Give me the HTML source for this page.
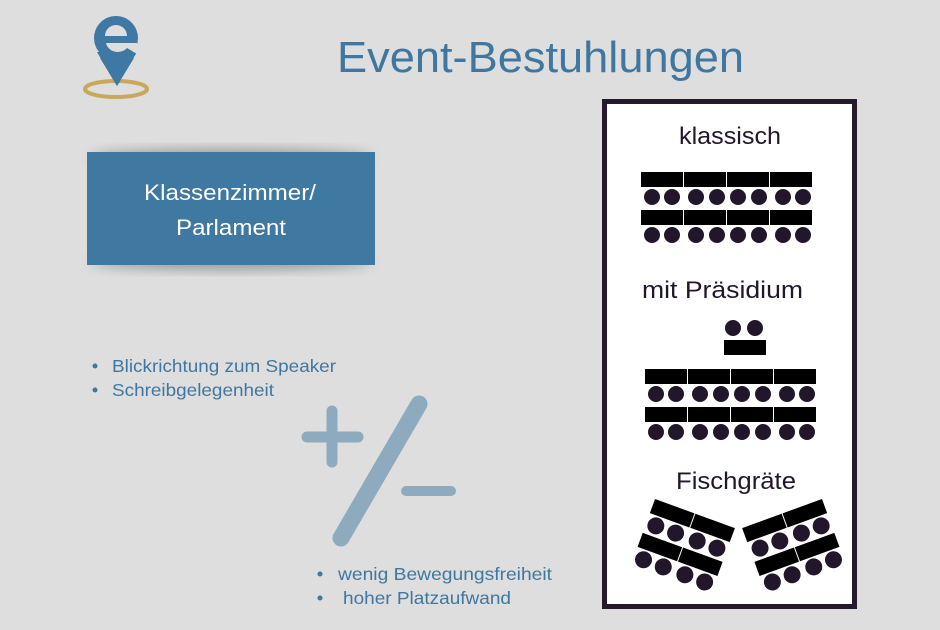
<!DOCTYPE html>
<html><head><meta charset="utf-8"><style>
html,body{margin:0;padding:0;}
body{width:940px;height:625px;background:#dedede;overflow:hidden;font-family:"Liberation Sans",sans-serif;}
</style></head><body>
<svg width="940" height="625" viewBox="0 0 940 625" xmlns="http://www.w3.org/2000/svg">
<defs>
<filter id="sh" x="-20%" y="-40%" width="140%" height="180%"><feGaussianBlur stdDeviation="6"/></filter>
<g id="fg">
  <rect x="0" y="0" width="42" height="15" fill="#000"/>
  <rect x="43" y="0" width="42" height="15" fill="#000"/>
  <circle cx="10" cy="25" r="8.5" fill="#22172a"/><circle cx="31" cy="25" r="8.5" fill="#22172a"/>
  <circle cx="54" cy="25" r="8.5" fill="#22172a"/><circle cx="75" cy="25" r="8.5" fill="#22172a"/>
  <rect x="0" y="36" width="42" height="15" fill="#000"/>
  <rect x="43" y="36" width="42" height="15" fill="#000"/>
  <circle cx="10" cy="61" r="8.5" fill="#22172a"/><circle cx="31" cy="61" r="8.5" fill="#22172a"/>
  <circle cx="54" cy="61" r="8.5" fill="#22172a"/><circle cx="75" cy="61" r="8.5" fill="#22172a"/>
</g>
<g id="blk">
  <rect x="0" y="0" width="42" height="15" fill="#000"/><rect x="43" y="0" width="42" height="15" fill="#000"/>
  <rect x="86" y="0" width="42" height="15" fill="#000"/><rect x="129" y="0" width="42" height="15" fill="#000"/>
  <g fill="#22172a">
  <circle cx="11" cy="25" r="8"/><circle cx="31" cy="25" r="8"/><circle cx="55" cy="25" r="8"/><circle cx="76" cy="25" r="8"/>
  <circle cx="97" cy="25" r="8"/><circle cx="118" cy="25" r="8"/><circle cx="142" cy="25" r="8"/><circle cx="162" cy="25" r="8"/>
  </g>
  <g transform="translate(0,38)">
  <rect x="0" y="0" width="42" height="15" fill="#000"/><rect x="43" y="0" width="42" height="15" fill="#000"/>
  <rect x="86" y="0" width="42" height="15" fill="#000"/><rect x="129" y="0" width="42" height="15" fill="#000"/>
  <g fill="#22172a">
  <circle cx="11" cy="25" r="8"/><circle cx="31" cy="25" r="8"/><circle cx="55" cy="25" r="8"/><circle cx="76" cy="25" r="8"/>
  <circle cx="97" cy="25" r="8"/><circle cx="118" cy="25" r="8"/><circle cx="142" cy="25" r="8"/><circle cx="162" cy="25" r="8"/>
  </g></g>
</g>
</defs>

<!-- logo -->
<ellipse cx="116" cy="89" rx="31" ry="8" fill="none" stroke="#c9a85a" stroke-width="4"/>
<path d="M117 86 L97 52 L137 52 Z" fill="#3f78a2"/>
<circle cx="116" cy="38" r="22" fill="#3f78a2"/>
<path d="M105 36 A11 11 0 0 1 127 36 Z" fill="#dedede"/>
<path d="M106 43 A12 11 0 0 0 127 48 L137 54 L137 43 Z" fill="#dedede"/>
<path d="M117 86 L100 58 L134 58 Z" fill="#3f78a2"/>

<text x="337" y="72" textLength="407" lengthAdjust="spacingAndGlyphs" font-size="44" fill="#3f77a0">Event-Bestuhlungen</text>

<!-- blue box -->
<ellipse cx="231" cy="157" rx="140" ry="8" fill="#555" opacity="0.5" filter="url(#sh)"/>
<ellipse cx="231" cy="262" rx="140" ry="8" fill="#555" opacity="0.5" filter="url(#sh)"/>
<rect x="87" y="152" width="288" height="113" fill="#3f78a0"/>
<text x="144" y="200" textLength="172" lengthAdjust="spacingAndGlyphs" font-size="22" fill="#fff">Klassenzimmer/</text>
<text x="176" y="235" textLength="110" lengthAdjust="spacingAndGlyphs" font-size="22" fill="#fff">Parlament</text>

<g font-size="17.5" fill="#3f77a0">
<circle cx="95" cy="366" r="2.5"/><text x="112" y="372" textLength="224" lengthAdjust="spacingAndGlyphs">Blickrichtung zum Speaker</text>
<circle cx="95" cy="390" r="2.5"/><text x="112" y="396" textLength="162" lengthAdjust="spacingAndGlyphs">Schreibgelegenheit</text>
<circle cx="320" cy="574" r="2.5"/><text x="338" y="580" textLength="214" lengthAdjust="spacingAndGlyphs">wenig Bewegungsfreiheit</text>
<circle cx="320" cy="598" r="2.5"/><text x="343" y="604" textLength="168" lengthAdjust="spacingAndGlyphs">hoher Platzaufwand</text>
</g>

<!-- plus/minus -->
<g stroke="#8eaabf" stroke-linecap="round" fill="none">
<line x1="307" y1="437" x2="358" y2="437" stroke-width="11"/>
<line x1="332" y1="411" x2="332" y2="462" stroke-width="11"/>
<line x1="419" y1="404" x2="341" y2="538" stroke-width="17"/>
<line x1="406" y1="491" x2="451" y2="491" stroke-width="10"/>
</g>

<!-- right frame -->
<rect x="604.5" y="101.5" width="250" height="505" fill="#fff" stroke="#241a2c" stroke-width="5"/>
<g font-size="24" fill="#22172a">
<text x="679" y="144" textLength="102" lengthAdjust="spacingAndGlyphs">klassisch</text>
<text x="642" y="298" textLength="161" lengthAdjust="spacingAndGlyphs">mit Präsidium</text>
<text x="676" y="489" textLength="120" lengthAdjust="spacingAndGlyphs">Fischgräte</text>
</g>
<use href="#blk" x="641" y="172"/>
<circle cx="733" cy="328" r="8" fill="#22172a"/><circle cx="755" cy="328" r="8" fill="#22172a"/>
<rect x="724" y="340" width="42" height="15" fill="#000"/>
<use href="#blk" x="645" y="369"/>
<use href="#fg" transform="translate(655,499) rotate(20)"/>
<use href="#fg" transform="translate(822,499) scale(-1,1) rotate(20)"/>
</svg>
</body></html>
